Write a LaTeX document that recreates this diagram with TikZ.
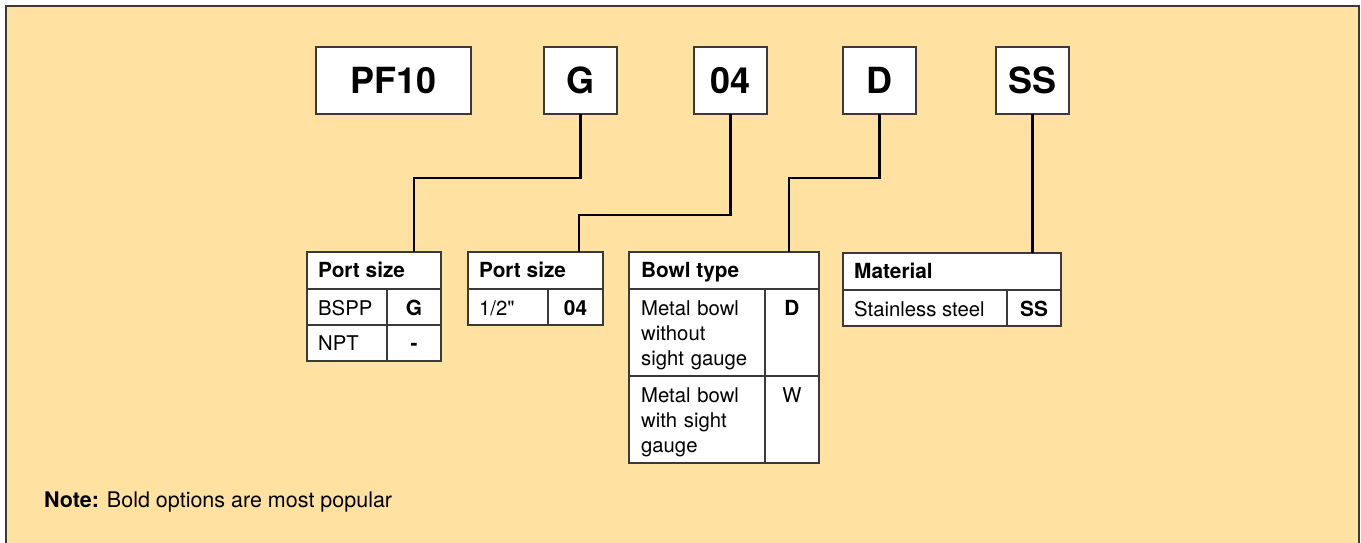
\documentclass[tikz,border=0pt]{standalone}
\usepackage{fontspec}
\setmainfont{TeX Gyre Heros}
\newfontfamily\rawfont{TeX Gyre Heros}
\usetikzlibrary{positioning}

\definecolor{panelbg}{HTML}{FFE1A1}
\definecolor{boxline}{HTML}{3A3A3A}

\tikzset{
  codebox/.style={draw=boxline, fill=white, line width=1.3pt, minimum width=73pt,
    minimum height=67pt, inner sep=0pt, outer sep=0pt,
    font=\fontsize{36}{40}\selectfont\bfseries},
  cell/.style={draw=boxline, fill=white, line width=1.3pt, anchor=north west,
    inner sep=0pt, outer sep=0pt},
  txt/.style={anchor=base west, inner sep=0pt, font=\fontsize{20.3}{25}\selectfont},
  btxt/.style={txt, font=\fontsize{20.8}{25}\selectfont\bfseries},
  ctxt/.style={txt, anchor=base},
  link/.style={line width=2.6pt, black}
}

\begin{document}
\begin{tikzpicture}[x=1pt, y=-1pt]
    \useasboundingbox (0,0) rectangle (1361,542);
    % Panel
    \draw[boxline, line width=1.3pt, fill=panelbg] (6,6) rectangle (1359,590);

    % Ordering code
    \node[codebox, minimum width=155pt] (pf) at (393.5,80.5) {PF10};
    \node[codebox] (port) at (580.5,80.5) {G};
    \node[codebox] (size) at (730.5,80.5) {04};
    \node[codebox] (bowl) at (879.5,80.5) {D};
    \node[codebox] (mat) at (1032.5,80.5) {SS};

    % Port size (thread)
    \node[cell, minimum width=134pt, minimum height=37pt] (portH) at (307,252) {};
    \node[cell, minimum width=80pt, minimum height=36pt] (portA) at (307,289) {};
    \node[cell, minimum width=54pt, minimum height=36pt] (portAc) at (387,289) {};
    \node[cell, minimum width=80pt, minimum height=36pt] (portB) at (307,325) {};
    \node[cell, minimum width=54pt, minimum height=36pt] (portBc) at (387,325) {};
    \node[btxt] (portT) at (318,277) {Port size};
    \node[txt] (portAt) at (318,315) {BSPP};
    \node[btxt, anchor=base] (portAct) at (414,315) {G};
    \node[txt] (portBt) at (318,350) {NPT};
    \node[btxt, anchor=base] (portBct) at (414,350) {-};

    % Port size (diameter)
    \node[cell, minimum width=135pt, minimum height=37pt] (sizeH) at (468,252) {};
    \node[cell, minimum width=80pt, minimum height=36pt] (sizeA) at (468,289) {};
    \node[cell, minimum width=55pt, minimum height=36pt] (sizeAc) at (548,289) {};
    \node[btxt] (sizeT) at (479,277) {Port size};
    \node[txt] (sizeAt) at (479,315) {1/2{\rawfont"}};
    \node[btxt, anchor=base] (sizeAct) at (575.5,315) {04};

    % Bowl type
    \node[cell, minimum width=190pt, minimum height=37pt] (bowlH) at (629,252) {};
    \node[cell, minimum width=136pt, minimum height=87pt] (bowlA) at (629,289) {};
    \node[cell, minimum width=54pt, minimum height=87pt] (bowlAc) at (765,289) {};
    \node[cell, minimum width=136pt, minimum height=87pt] (bowlB) at (629,376) {};
    \node[cell, minimum width=54pt, minimum height=87pt] (bowlBc) at (765,376) {};
    \node[btxt] (bowlT) at (641,277) {Bowl type};
    \node[txt, text width=125pt, align=left] (bowlAt) at (641,315) {Metal bowl\\without\\sight gauge};
    \node[btxt, anchor=base] (bowlAct) at (792,315) {D};
    \node[txt, text width=125pt, align=left] (bowlBt) at (641,402) {Metal bowl\\with sight\\gauge};
    \node[ctxt] (bowlBct) at (792,402) {W};

    % Material
    \node[cell, minimum width=218pt, minimum height=37pt] (matH) at (843,253) {};
    \node[cell, minimum width=164pt, minimum height=36pt] (matA) at (843,290) {};
    \node[cell, minimum width=54pt, minimum height=36pt] (matAc) at (1007,290) {};
    \node[btxt] (matT) at (854,278) {Material};
    \node[txt] (matAt) at (854,316) {Stainless steel};
    \node[btxt, anchor=base] (matAct) at (1034,316) {SS};

    % Connectors
    \draw[link] (port.south) -- ++(0,64) -| ([xshift=40pt]portH.north);
    \draw[link] (size.south) -- ++(0,101) -| ([xshift=43.5pt]sizeH.north);
    \draw[link] (bowl.south) -- ++(0,64) -| ([xshift=65pt]bowlH.north);
    \draw[link] (mat.south) -- (mat.south |- matH.north);

    \node[txt, font=\fontsize{21.5}{25}\selectfont] (note) at (44,507) {\textbf{Note:} Bold options are most popular};
\end{tikzpicture}
\end{document}
